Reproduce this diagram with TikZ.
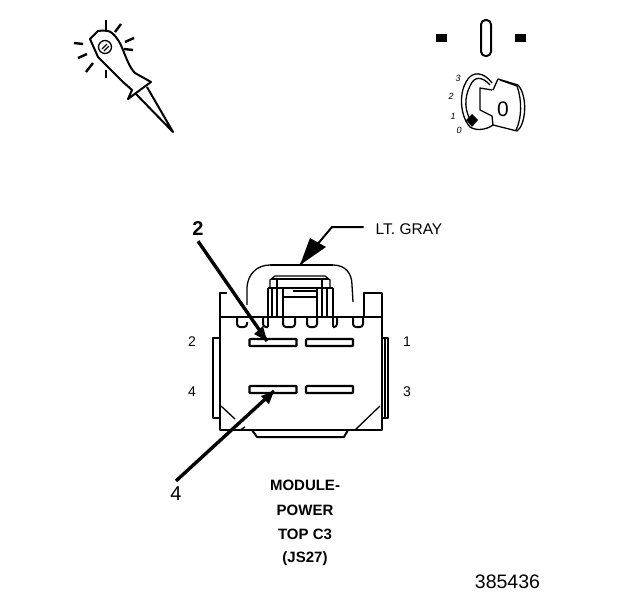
\documentclass[tikz,border=0pt]{standalone}
\usepackage{fontspec}
\setmainfont{Liberation Sans}
\usepackage{tikz}
\tikzset{
  thin line/.style={black,line width=1.3pt,line join=round},
  thick line/.style={black,line width=2pt,line join=round},
  leader/.style={black,line width=3.4pt},
  ray/.style={black,line width=2.4pt},
  head/.style={black,fill=black},
  pin label/.style={font=\fontsize{14}{16}\selectfont,inner sep=0pt},
  call label/.style={font=\fontsize{20}{22}\selectfont,inner sep=0pt},
  title label/.style={font=\fontsize{15}{17}\selectfont\bfseries,inner sep=0pt},
  pos label/.style={font=\fontsize{9}{10}\selectfont\itshape,inner sep=0pt},
  slot/.style={draw,black,line width=2.2pt,rounded corners=0.8pt,minimum width=47pt,minimum height=7pt,inner sep=0pt},
}
\begin{document}
\begin{tikzpicture}[x=1pt,y=1pt]
\useasboundingbox (0,0) rectangle (624,-600);
% test light
\draw [thick line] (90,-39) -- (98,-31) .. controls (106,-30) and (110,-31) .. (112,-33) .. controls (118,-38) and (121,-45) .. (123,-50) .. controls (127,-60) and (130,-68) .. (135,-73) -- (151,-82) -- (140,-90) -- (128,-99) -- (132,-90) -- (123,-82) -- (98,-57) -- cycle;
\draw [thick line] (135,-93) -- (173,-132) -- (147,-87);
\draw [thin line] (105,-47) circle (6.5);
\draw [thin line] (102,-49) -- (107,-44) (104,-51) -- (109,-46);
\draw [ray] (106,-20) -- (106,-30);
\draw [ray] (121,-24) -- (115,-32);
\draw [ray] (134,-38) -- (125,-42);
\draw [ray] (133,-50) -- (124,-49);
\draw [ray] (74,-43) -- (83,-44);
\draw [ray] (78,-58) -- (87,-54);
\draw [ray] (86,-72) -- (93,-63);
\draw [ray] (106,-70) -- (106,-78);
% ignition switch
\fill [black] (436,-34) rectangle (447,-42);
\fill [black] (515,-34) rectangle (526,-42);
\draw [thick line,rounded corners=4.5pt] (481,-20) rectangle (491,-56);
\node [pos label] (pos3) at (458,-78) {3};
\node [pos label] (pos2) at (451,-96) {2};
\node [pos label] (pos1) at (453,-116) {1};
\node [pos label] (pos0) at (459,-130) {0};
\draw [thin line] (492,-83) .. controls (484,-72) and (472,-70) .. (466,-82) .. controls (459,-94) and (460,-116) .. (470,-127) .. controls (476,-131) and (486,-130) .. (493,-125);
\draw [thin line] (490,-85) .. controls (482,-76) and (474,-76) .. (470,-86) .. controls (464,-98) and (464,-112) .. (473,-124);
\draw [thin line] (492,-90) -- (480,-88) -- (480,-110) -- (492,-116) -- (493,-125) -- (517,-131) .. controls (526,-125) and (528,-96) .. (518,-85) -- (498,-79) -- (493,-90);
\draw [thin line] (500,-80) -- (517,-86) .. controls (522,-100) and (522,-118) .. (516,-130);
\fill [black] (472,-114) -- (478,-120) -- (472,-127) -- (466,-120) -- cycle;
\node [inner sep=0pt,font=\fontsize{21}{24}\selectfont] (keyzero) at (503,-109) {0};
% connector body
\draw [thick line] (227,-293) -- (220,-293) -- (220,-430) -- (382,-430) -- (382,-293) -- (364,-293) -- (364,-317);
\draw [thick line] (220,-317) -- (382,-317);
\draw [thick line] (252,-430) -- (257,-437) -- (344,-437) -- (348,-430);
\draw [thin line] (221,-406) -- (235,-419);
\draw [thin line] (355,-430) -- (380,-406);
\draw [thin line] (240,-430) -- (245,-427);
\draw [thick line] (220,-338) -- (213,-338) -- (213,-418) -- (220,-418);
\draw [thick line] (382,-338) -- (388,-338) -- (388,-418) -- (382,-418);
\draw [thin line] (385,-338) -- (385,-418);
% latch
\draw [thin line] (247,-305) -- (247,-287) .. controls (248,-274) and (257,-265) .. (270,-265);
\draw [thick line] (270,-265) -- (333,-265);
\draw [thin line] (333,-265) .. controls (345,-265) and (352,-273) .. (352,-285) -- (353,-302);
\draw [thin line] (270,-288) -- (270,-280) -- (275,-276) -- (325,-276) -- (330,-280) -- (330,-288);
\draw [black,line width=2.6pt] (271,-279) -- (329,-279);
\draw [thin line] (268,-288) -- (333,-288);
\draw [thin line] (268,-288) -- (268,-327) (272,-288) -- (272,-317) (277,-280) -- (277,-317);
\draw [thin line] (322,-280) -- (322,-317) (327,-288) -- (327,-317) (333,-288) -- (333,-327);
\draw [thin line] (283,-288) -- (283,-317) (317,-288) -- (317,-317) (283,-297) -- (317,-297) (293,-291) -- (317,-291);
\draw [thick line,rounded corners=3pt] (237,-317) -- (237,-327) -- (247,-327) -- (247,-322);
\draw [thick line,rounded corners=3pt] (263,-317) -- (263,-327) -- (268,-327);
\draw [thick line,rounded corners=3pt] (283,-317) -- (283,-327) -- (295,-327) -- (295,-317);
\draw [thick line,rounded corners=3pt] (307,-317) -- (307,-327) -- (317,-327) -- (317,-317);
\draw [thick line,rounded corners=3pt] (333,-327) -- (337,-327) -- (337,-317);
\draw [thick line,rounded corners=3pt] (353,-317) -- (353,-327) -- (363,-327) -- (363,-317);
% terminals
\node [slot] (slot2) at (273,-342.5) {};
\node [slot] (slot1) at (329.5,-342.5) {};
\node [slot] (slot4) at (273,-389.5) {};
\node [slot] (slot3) at (329.5,-389.5) {};
\node [pin label] (pin2) at (192,-342) {2};
\node [pin label] (pin1) at (407,-342) {1};
\node [pin label] (pin4) at (192,-392) {4};
\node [pin label] (pin3) at (407,-392) {3};
% callouts
\node [call label,font=\fontsize{20}{22}\selectfont\bfseries] (call2) at (198,-229) {2};
\node [call label] (call4) at (176,-494) {4};
\node [pin label,anchor=west,font=\fontsize{15.5}{18}\selectfont] (gray) at (375.5,-229) {LT. GRAY};
\coordinate (tip2) at (267,-341);
\coordinate (tip4) at (274,-391);
\coordinate (tipgray) at (300,-265);
\coordinate (bend) at (332,-227);
\draw [leader] (call2.south) ++(0,-5) -- (tip2);
\fill [head] (tip2) -- (254,-334) -- (263,-326) -- cycle;
\draw [leader] (call4.north) ++(0,6) -- (tip4);
\fill [head] (tip4) -- (261,-396) -- (269,-404) -- cycle;
\draw [thick line] (gray.west) ++(-12,2) -- (bend) -- (tipgray);
\fill [head] (tipgray) -- (310,-238) -- (326,-247) -- cycle;
% title
\node [title label] (title1) at (305,-485) {MODULE-};
\node [title label] (title2) at (305,-510) {POWER};
\node [title label] (title3) at (305,-534) {TOP C3};
\node [title label] (title4) at (305,-559) {(JS27)};
\node [inner sep=0pt,font=\fontsize{19.5}{22}\selectfont] (figno) at (507.5,-582) {385436};
\end{tikzpicture}
\end{document}
